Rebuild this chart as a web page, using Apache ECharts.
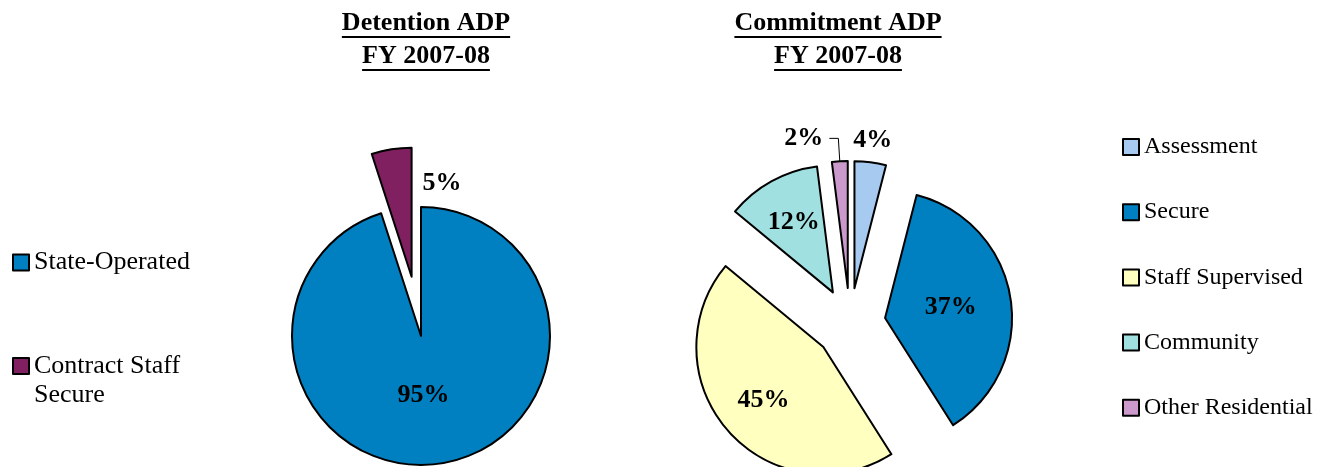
<!DOCTYPE html>
<html>
<head>
<meta charset="utf-8">
<script src="https://cdn.jsdelivr.net/npm/echarts@6/dist/echarts.min.js"></script>
<style>
  html, body { margin: 0; padding: 0; background: #fff; }
  #chart { width: 1322px; height: 467px; }
</style>
</head>
<body>
<div id="chart"></div>
<script>
// data
var detentionNames = ['State-Operated', 'Contract Staff\nSecure'];
var detentionValues = [95, 5];
var commitmentNames = ['Assessment', 'Secure', 'Staff Supervised', 'Community', 'Other Residential'];
var commitmentValues = [4, 37, 45, 12, 2];
var titleLines = [['Detention ADP', 'FY 2007-08'], ['Commitment ADP', 'FY 2007-08']];

// styles
var detentionColors = ['#0080C0', '#802060'];
var commitmentColors = ['#A6CAF0', '#0080C0', '#FFFFC0', '#A0E0E0', '#CC99CC'];
var FONT = '"Liberation Serif", "Times New Roman", serif';
var titleX = [426, 838];

// label nudges, to sit where Excel put them
var leftNudge = [[-8, -7], [41, -27]];
var rightNudge = [[10, -82], [0, 0], [-10, 9], [-7, -12], [0, 0]];

var chart = echarts.init(document.getElementById('chart'));

// measure title text for the underlines
var ctx = document.createElement('canvas').getContext('2d');
ctx.font = 'bold 26px ' + FONT;
var underlines = [];
titleLines.forEach(function (lines, i) {
  lines.forEach(function (t, j) {
    var w = ctx.measureText(t).width;
    underlines.push({
      type: 'rect',
      shape: { x: titleX[i] - w / 2, y: 36 + j * 33, width: w, height: 2 },
      style: { fill: '#000' },
      silent: true
    });
  });
});

var labelStyle = {
  position: 'inside',
  formatter: '{c}%',
  fontFamily: FONT,
  fontSize: 26,
  fontWeight: 'bold',
  color: '#000'
};

var legendBase = {
  orient: 'vertical',
  icon: 'rect',
  itemWidth: 16,
  itemHeight: 16,
  padding: 0,
  selectedMode: false,
  itemStyle: { borderColor: '#000', borderWidth: 2 }
};

var option = {
  animation: false,
  title: titleLines.map(function (lines, i) {
    return {
      text: lines.join('\n'),
      left: titleX[i],
      top: 7,
      textAlign: 'center',
      padding: 0,
      textStyle: { fontFamily: FONT, fontSize: 26, fontWeight: 'bold', lineHeight: 33, color: '#000' }
    };
  }),
  legend: [
    Object.assign({}, legendBase, {
      left: 12, top: 248,
      textStyle: { fontFamily: FONT, fontSize: 26, color: '#000', lineHeight: 29 },
      data: [detentionNames[0]]
    }),
    Object.assign({}, legendBase, {
      left: 12, top: 322.5,
      textStyle: { fontFamily: FONT, fontSize: 26, color: '#000', lineHeight: 29 },
      // blank first line keeps the icon level with "Contract Staff"
      formatter: function (name) { return '\n' + name; },
      data: [detentionNames[1]]
    }),
    Object.assign({}, legendBase, {
      left: 1122, top: 135, itemGap: 41.2,
      textStyle: { fontFamily: FONT, fontSize: 24, color: '#000', lineHeight: 24 },
      data: commitmentNames
    })
  ],
  graphic: underlines,
  series: [
    {
      type: 'pie',
      center: [421, 336],
      radius: 129,
      startAngle: 90,
      clockwise: true,
      selectedMode: 'multiple',
      selectedOffset: 60,
      avoidLabelOverlap: false,
      emphasis: { disabled: true },
      itemStyle: { borderColor: '#000', borderWidth: 2 },
      label: labelStyle,
      labelLine: { show: false },
      labelLayout: function (p) {
        var n = leftNudge[p.dataIndex];
        return { dx: n[0], dy: n[1] };
      },
      data: detentionNames.map(function (name, i) {
        return { name: name, value: detentionValues[i], selected: i === 1, itemStyle: { color: detentionColors[i] } };
      })
    },
    {
      type: 'pie',
      center: [850, 323.5],
      radius: 127,
      startAngle: 90,
      clockwise: true,
      selectedMode: 'multiple',
      selectedOffset: 35.5,
      avoidLabelOverlap: false,
      emphasis: { disabled: true },
      itemStyle: { borderColor: '#000', borderWidth: 2 },
      label: labelStyle,
      labelLine: { show: false },
      labelLayout: function (p) {
        var n = rightNudge[p.dataIndex];
        if (!n[0] && !n[1]) return {};
        return { dx: n[0], dy: n[1] };
      },
      data: commitmentNames.map(function (name, i) {
        var item = { name: name, value: commitmentValues[i], selected: true, itemStyle: { color: commitmentColors[i] } };
        if (name === 'Other Residential') {
          item.label = { position: 'outside', distanceToLabelLine: 6 };
          item.labelLine = { show: true, length: 23, length2: 9, smooth: false, lineStyle: { color: '#000', width: 1 } };
        }
        return item;
      })
    }
  ]
};

chart.setOption(option);
</script>
</body>
</html>
